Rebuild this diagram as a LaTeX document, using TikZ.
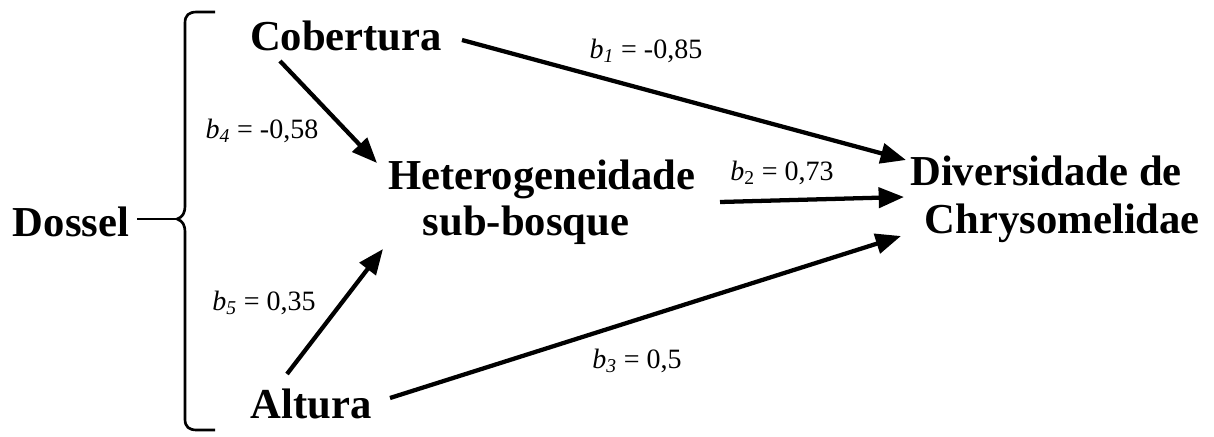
\documentclass[tikz,border=0pt]{standalone}
\usepackage{fontspec}
\setmainfont{Liberation Serif}
\usetikzlibrary{arrows.meta}
\begin{document}
\begin{tikzpicture}[x=0.75pt,y=-0.75pt,
  big/.style={font=\fontsize{32}{34}\selectfont\bfseries, inner sep=0pt, anchor=base, align=left},
  coef/.style={font=\fontsize{21}{25}\selectfont, inner sep=0pt, anchor=base},
  link/.style={line width=3.2pt, -{Triangle[length=19pt,width=15pt]}},
  bracepath/.style={line width=2pt}]
\useasboundingbox (0,0) rectangle (1214,436);
% nodes
\node[big] (dossel) at (71,236) {Dossel};
\node[big] (cob) at (346,50) {Cobertura};
\node[big] (alt) at (311,418) {Altura};
\node[big, anchor=base west] (het) at (388,235) {Heterogeneidade\\\hspace*{26pt}sub-bosque};
\node[big, anchor=base west] (div) at (910,233) {Diversidade de\\[2pt]\hspace*{11pt}Chrysomelidae};
% brace
\coordinate (cusp) at (177,219);
\draw[bracepath] (215,12) -- (197,12) .. controls (189,12) and (185,15) .. (185,23) -- (185,205)
  .. controls (185,213) and (183,217) .. (cusp)
  .. controls (183,221) and (185,225) .. (185,233) -- (185,419)
  .. controls (185,427) and (189,430) .. (197,430) -- (215,430);
\draw[bracepath] ([xshift=6pt]dossel.east |- cusp) -- (cusp);
% connectors
\coordinate (c1s) at (462,40);  \coordinate (c1e) at (906,160);
\coordinate (c2s) at (720,202); \coordinate (c2e) at (904,197);
\coordinate (c3s) at (390,398); \coordinate (c3e) at (901,236);
\coordinate (c4s) at (280,61);  \coordinate (c4e) at (377,163);
\coordinate (c5s) at (287,374); \coordinate (c5e) at (383,249);
\draw[link] (c1s) -- (c1e);
\draw[link] (c2s) -- (c2e);
\draw[link] (c3s) -- (c3e);
\draw[link] (c4s) -- (c4e);
\draw[link] (c5s) -- (c5e);
% labels
\node[coef] (l1) at (646,58) {\textit{b\textsubscript{1}} = -0,85};
\node[coef] (l2) at (782,180) {\textit{b}\textsubscript{2} = 0,73};
\node[coef] (l3) at (637,368) {\textit{b\textsubscript{3}} = 0,5};
\node[coef] (l4) at (262,138) {\textit{b\textsubscript{4}} = -0,58};
\node[coef] (l5) at (264,310) {\textit{b\textsubscript{5}} = 0,35};
\end{tikzpicture}
\end{document}
